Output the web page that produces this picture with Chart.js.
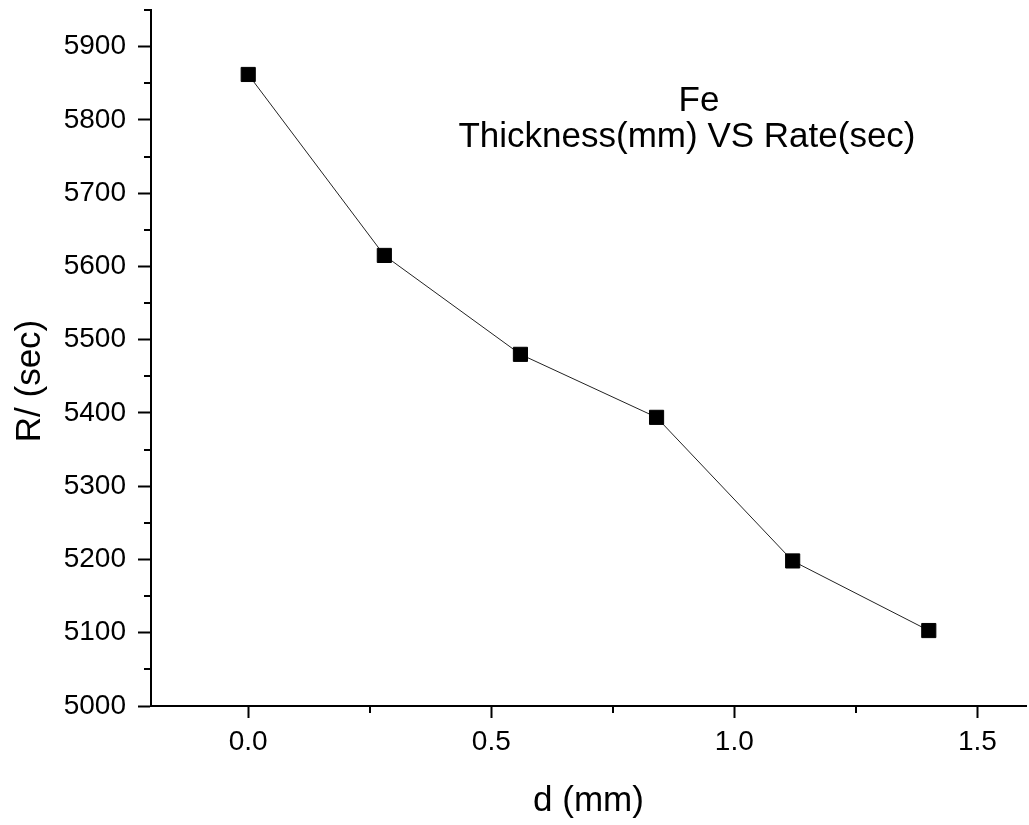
<!DOCTYPE html>
<html>
<head>
<meta charset="utf-8">
<script src="https://cdn.jsdelivr.net/npm/chart.js@4/dist/chart.umd.min.js"></script>
<style>
  html, body { margin: 0; padding: 0; background: #fff; }
  #wrap { width: 1029px; height: 825px; }
</style>
</head>
<body>
<div id="wrap"><canvas id="chart" width="1029" height="825"></canvas></div>
<script>
// thickness of Fe absorber (mm) and measured rate (sec)
thickness = [0.0, 0.28, 0.56, 0.84, 1.12, 1.40]
rate = [5862, 5615, 5480, 5394, 5198, 5103]

xMajor = [0.0, 0.5, 1.0, 1.5]
xMinor = [0.25, 0.75, 1.25]
yMajor = [5000, 5100, 5200, 5300, 5400, 5500, 5600, 5700, 5800, 5900]
yMinor = [5050, 5150, 5250, 5350, 5450, 5550, 5650, 5750, 5850, 5950]

titleLines = ['Fe', 'Thickness(mm) VS Rate(sec)']
yTitle = 'R/ (sec)'

FONT = "'Liberation Sans', Arial, sans-serif"

// short minor ticks between the labelled ones
minorTicks = {
  id: 'minorTicks',
  afterDraw(chart) {
    const c = chart.ctx, xs = chart.scales.x, ys = chart.scales.y
    c.save()
    c.strokeStyle = '#000'
    c.lineWidth = 2
    c.beginPath()
    xMinor.forEach(v => {
      const px = Math.round(xs.getPixelForValue(v))
      c.moveTo(px, ys.bottom)
      c.lineTo(px, ys.bottom + 7)
    })
    yMinor.forEach(v => {
      const py = Math.round(ys.getPixelForValue(v))
      c.moveTo(xs.left, py)
      c.lineTo(xs.left - 7, py)
    })
    c.stroke()
    c.restore()
  }
}

// two-line caption inside the plot, plus the rotated y title
caption = {
  id: 'caption',
  afterDraw(chart) {
    const c = chart.ctx
    c.save()
    c.fillStyle = '#000'
    c.font = '35px ' + FONT
    c.textAlign = 'center'
    c.textBaseline = 'alphabetic'
    c.fillText(titleLines[0], 699, 111)
    c.fillText(titleLines[1], 687, 147)

    c.translate(30, 381)
    c.rotate(-Math.PI / 2)
    c.textBaseline = 'middle'
    c.fillText(yTitle, 0, 0)
    c.restore()
  }
}

config = {
  type: 'line',
  data: {
    datasets: [{
      data: thickness.map((x, i) => ({ x, y: rate[i] })),
      borderColor: '#222',
      borderWidth: 1,
      backgroundColor: '#000',
      pointStyle: 'rect',
      pointRadius: 10,
      pointBorderWidth: 1,
      pointBorderColor: '#000',
      pointBackgroundColor: '#000',
      tension: 0,
      clip: false
    }]
  },
  options: {
    responsive: false,
    animation: false,
    layout: { autoPadding: false, padding: { top: 10, right: 3, left: 0, bottom: 0 } },
    plugins: {
      legend: { display: false },
      tooltip: { enabled: false }
    },
    scales: {
      x: {
        type: 'linear',
        min: -0.2,
        max: 1.6,
        afterBuildTicks: s => { s.ticks = xMajor.map(v => ({ value: v })) },
        afterFit: s => { s.height = 119; s.paddingLeft = 0; s.paddingRight = 0 },
        ticks: {
          color: '#000',
          font: { family: FONT, size: 28 },
          padding: 7,
          maxRotation: 0,
          callback: v => v.toFixed(1)
        },
        grid: { drawOnChartArea: false, drawTicks: true, tickLength: 12, tickWidth: 2, tickColor: '#000' },
        border: { display: true, color: '#000', width: 2 },
        title: {
          display: true,
          text: 'd (mm)',
          color: '#000',
          font: { family: FONT, size: 35 },
          padding: { top: 0, bottom: 3 }
        }
      },
      y: {
        type: 'linear',
        min: 5000,
        max: 5950,
        afterBuildTicks: s => { s.ticks = yMajor.map(v => ({ value: v })) },
        afterFit: s => { s.width = 151; s.paddingTop = 0; s.paddingBottom = 0 },
        ticks: {
          color: '#000',
          font: { family: FONT, size: 28 },
          padding: 12,
          callback: v => String(v)
        },
        grid: { drawOnChartArea: false, drawTicks: true, tickLength: 13, tickWidth: 2, tickColor: '#000' },
        border: { display: true, color: '#000', width: 2 },
        title: { display: false }
      }
    }
  },
  plugins: [minorTicks, caption]
}

ctx = document.getElementById('chart')
new Chart(ctx, config)
</script>
</body>
</html>
